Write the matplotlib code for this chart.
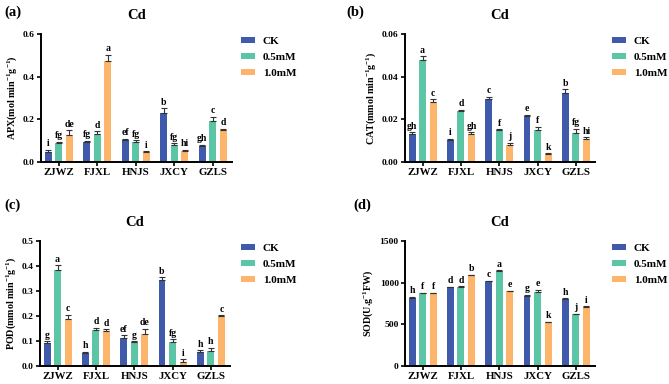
import matplotlib
matplotlib.use("Agg")
import matplotlib.pyplot as plt
import numpy as np

plt.rcParams['font.family'] = ['Liberation Serif', 'DejaVu Serif']
plt.rcParams['font.weight'] = 'bold'
plt.rcParams['mathtext.fontset'] = 'custom'
plt.rcParams['mathtext.rm'] = 'Liberation Serif:bold'
plt.rcParams['mathtext.it'] = 'Liberation Serif:bold'
plt.rcParams['mathtext.bf'] = 'Liberation Serif:bold'

categories = ["ZJWZ", "FJXL", "HNJS", "JXCY", "GZLS"]
series = ["CK", "0.5mM", "1.0mM"]
colors = ["#3F5AAB", "#5CC5A6", "#FDB56B"]

# APX
apx_ck = [0.047, 0.094, 0.104, 0.232, 0.075]
apx_05 = [0.090, 0.130, 0.096, 0.082, 0.192]
apx_10 = [0.126, 0.474, 0.047, 0.052, 0.149]
apx_ck_err = [0.010, 0.006, 0.006, 0.020, 0.006]
apx_05_err = [0.005, 0.015, 0.005, 0.006, 0.020]
apx_10_err = [0.023, 0.028, 0.003, 0.006, 0.006]
apx_ck_let = ["i", "fg", "ef", "b", "gh"]
apx_05_let = ["fg", "d", "fg", "fg", "c"]
apx_10_let = ["de", "a", "i", "hi", "d"]

# CAT
cat_ck = [0.0130, 0.0102, 0.0295, 0.0215, 0.0322]
cat_05 = [0.0480, 0.0240, 0.0151, 0.0152, 0.0137]
cat_10 = [0.0280, 0.0129, 0.0079, 0.0036, 0.0108]
cat_ck_err = [0.0010, 0.0007, 0.0010, 0.0007, 0.0020]
cat_05_err = [0.0015, 0.0005, 0.0003, 0.0013, 0.0020]
cat_10_err = [0.0015, 0.0010, 0.0010, 0.0005, 0.0008]
cat_ck_let = ["gh", "i", "c", "e", "b"]
cat_05_let = ["a", "d", "f", "f", "fg"]
cat_10_let = ["c", "gh", "j", "k", "hi"]

# POD
pod_ck = [0.092, 0.054, 0.113, 0.343, 0.057]
pod_05 = [0.386, 0.146, 0.095, 0.097, 0.059]
pod_10 = [0.187, 0.142, 0.129, 0.018, 0.200]
pod_ck_err = [0.007, 0.002, 0.010, 0.012, 0.006]
pod_05_err = [0.018, 0.008, 0.005, 0.010, 0.013]
pod_10_err = [0.018, 0.005, 0.020, 0.010, 0.003]
pod_ck_let = ["g", "h", "ef", "b", "h"]
pod_05_let = ["a", "d", "g", "fg", "h"]
pod_10_let = ["c", "d", "de", "i", "c"]

# SOD
sod_ck = [821, 943, 1018, 845, 805]
sod_05 = [872, 951, 1145, 892, 620]
sod_10 = [872, 1089, 896, 529, 703]
sod_ck_err = [8, 8, 8, 8, 10]
sod_05_err = [8, 5, 5, 20, 5]
sod_10_err = [6, 5, 6, 4, 12]
sod_ck_let = ["h", "d", "c", "g", "h"]
sod_05_let = ["f", "d", "a", "e", "j"]
sod_10_let = ["f", "b", "e", "k", "i"]

W, H = 669, 384
fig = plt.figure(figsize=(W / 100, H / 100), dpi=100)

def px_axes(left, right, top, bottom):
    return fig.add_axes([left / W, 1 - bottom / H, (right - left) / W, (bottom - top) / H])

panels = [
    dict(box=(41, 232, 34, 162), vals=(apx_ck, apx_05, apx_10), errs=(apx_ck_err, apx_05_err, apx_10_err),
         lets=(apx_ck_let, apx_05_let, apx_10_let), ylim=0.6, ticks=[0.0, 0.2, 0.4, 0.6], fmt="{:.1f}",
         ylabel="APX(mol min$^{-1}$g$^{-1}$)", tag="(a)", tagpos=(4, 12), legpos=(241, 37)),
    dict(box=(405, 595, 34, 162), vals=(cat_ck, cat_05, cat_10), errs=(cat_ck_err, cat_05_err, cat_10_err),
         lets=(cat_ck_let, cat_05_let, cat_10_let), ylim=0.06, ticks=[0.0, 0.02, 0.04, 0.06], fmt="{:.2f}",
         ylabel="CAT(mmol min$^{-1}$g$^{-1}$)", tag="(b)", tagpos=(346, 12), legpos=(612, 37)),
    dict(box=(40, 230, 241, 366), vals=(pod_ck, pod_05, pod_10), errs=(pod_ck_err, pod_05_err, pod_10_err),
         lets=(pod_ck_let, pod_05_let, pod_10_let), ylim=0.5, ticks=[0.0, 0.1, 0.2, 0.3, 0.4, 0.5], fmt="{:.1f}",
         ylabel="POD(mmol min$^{-1}$g$^{-1}$)", tag="(c)", tagpos=(4, 205), legpos=(241, 244)),
    dict(box=(405, 595, 241, 366), vals=(sod_ck, sod_05, sod_10), errs=(sod_ck_err, sod_05_err, sod_10_err),
         lets=(sod_ck_let, sod_05_let, sod_10_let), ylim=1500, ticks=[0, 500, 1000, 1500], fmt="{:.0f}",
         ylabel="SOD(U.g$^{-1}$FW)", tag="(d)", tagpos=(353, 205), legpos=(612, 244)),
]

x = np.arange(len(categories))
offsets = [-0.275, 0.0, 0.275]
bw = 0.18

for p in panels:
    ax = px_axes(*p["box"])
    for i in range(3):
        v = np.array(p["vals"][i], dtype=float)
        e = np.array(p["errs"][i], dtype=float)
        ax.bar(x + offsets[i], v, width=bw, color=colors[i], label=series[i], zorder=2)
        ax.errorbar(x + offsets[i], v, yerr=[np.zeros_like(e), e], fmt='none', ecolor='#333333',
                    elinewidth=0.8, capsize=2.2, capthick=0.8, zorder=3)
        for xi, vi, ei, lt in zip(x + offsets[i], v, e, p["lets"][i]):
            ax.text(xi, vi + ei + p["ylim"] * 0.012, lt, ha='center', va='bottom', fontsize=7,
                    fontweight='bold')
    ax.set_xlim(-0.46, 4.5)
    ax.set_ylim(0, p["ylim"])
    ax.set_yticks(p["ticks"])
    ax.set_yticklabels([p["fmt"].format(t) for t in p["ticks"]], fontsize=6.8, fontweight='bold')
    ax.set_xticks(x)
    ax.set_xticklabels(categories, fontsize=7.8, fontweight='bold')
    for s in ['top', 'right']:
        ax.spines[s].set_visible(False)
    for s in ['left', 'bottom']:
        ax.spines[s].set_linewidth(1.4)
    ax.tick_params(axis='both', width=1.2, length=3, pad=1.5)
    ax.set_ylabel(p["ylabel"], fontsize=7.2, fontweight='bold', labelpad=3)
    ax.set_title("Cd", fontsize=10.5, fontweight='bold', pad=11)
    fig.text(p["tagpos"][0] / W, 1 - p["tagpos"][1] / H, p["tag"], fontsize=10.5, fontweight='bold',
             ha='left', va='center')
    ax.legend(loc='upper left', bbox_to_anchor=(p["legpos"][0] / W, 1 - p["legpos"][1] / H),
              bbox_transform=fig.transFigure, frameon=False, borderaxespad=0, borderpad=0,
              handlelength=1.25, handleheight=0.5, handletextpad=0.7, labelspacing=0.6,
              prop={'size': 8, 'weight': 'bold'})

fig.savefig("out.png", dpi=100)
